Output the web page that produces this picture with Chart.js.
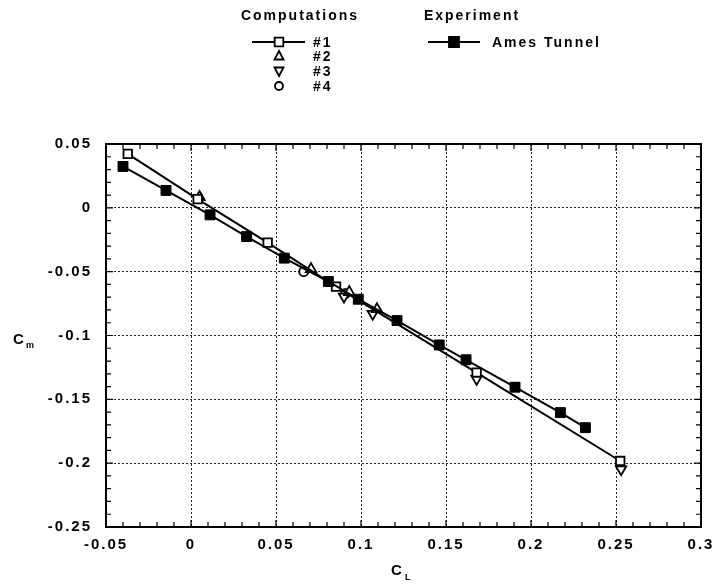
<!DOCTYPE html>
<html>
<head>
<meta charset="utf-8">
<script src="https://cdn.jsdelivr.net/npm/chart.js@4"></script>
<style>
  body { margin: 0; background: #fff; }
  canvas { display: block; }
</style>
</head>
<body>
<canvas id="cm" width="715" height="586"></canvas>
<script>
// C_L / C_m values
let clExp = [-0.040, -0.0147, 0.0112, 0.0327, 0.0549, 0.0808, 0.0984, 0.1212, 0.146, 0.1618, 0.1906, 0.2173, 0.232];
let cmExp = [0.0324, 0.0136, -0.0055, -0.0225, -0.0394, -0.0577, -0.0716, -0.0883, -0.1074, -0.119, -0.1405, -0.1604, -0.1722];

let cl1 = [-0.0372, 0.0039, 0.0451, 0.0853, 0.168, 0.2525];
let cm1 = [0.0423, 0.0068, -0.0272, -0.0617, -0.129, -0.1983];

let cl2 = [0.005, 0.0706, 0.0931, 0.1094];
let cm2 = [0.0085, -0.048, -0.066, -0.0794];

let cl3 = [0.090, 0.1069, 0.168, 0.253];
let cm3 = [-0.0695, -0.083, -0.134, -0.2048];

let cl4 = [0.0663, 0.091];
let cm4 = [-0.050, -0.067];

let xTicks = [-0.05, 0, 0.05, 0.1, 0.15, 0.2, 0.25, 0.3];
let yTicks = [-0.25, -0.2, -0.15, -0.1, -0.05, 0, 0.05];

function pts(xs, ys) {
  return xs.map((x, i) => ({ x: x, y: ys[i] }));
}

let FONT = "Liberation Sans, Arial, sans-serif";

function marker(ctx, style, x, y, filled) {
  ctx.save();
  ctx.beginPath();
  if (style === "rect") {
    let s = filled ? 5 : 4.3;
    ctx.rect(x - s, y - s, 2 * s, 2 * s);
  } else if (style === "up") {
    ctx.moveTo(x, y - 5);
    ctx.lineTo(x + 4.5, y + 3.5);
    ctx.lineTo(x - 4.5, y + 3.5);
    ctx.closePath();
  } else if (style === "down") {
    ctx.moveTo(x, y + 5);
    ctx.lineTo(x + 4.5, y - 3.5);
    ctx.lineTo(x - 4.5, y - 3.5);
    ctx.closePath();
  } else {
    ctx.arc(x, y, 4, 0, Math.PI * 2);
  }
  ctx.fillStyle = filled ? "#000" : "#fff";
  ctx.fill();
  ctx.lineWidth = 1.8;
  ctx.strokeStyle = "#000";
  ctx.stroke();
  ctx.restore();
}

let spacing = {
  id: "spacing",
  beforeLayout(chart) { chart.ctx.letterSpacing = "2px"; },
  beforeDraw(chart) { chart.ctx.letterSpacing = "2px"; },
};

let frame = {
  id: "frame",
  afterDatasetsDraw(chart) {
    let ctx = chart.ctx;
    let a = chart.chartArea;
    let xs = chart.scales.x, ys = chart.scales.y;
    ctx.save();
    ctx.strokeStyle = "#000";
    ctx.lineWidth = 1.2;
    ctx.beginPath();
    // minor ticks every 0.01, pointing inward
    for (let i = 0; i <= 35; i++) {
      let px = xs.getPixelForValue(-0.05 + i * 0.01);
      let len = i % 5 === 0 ? 7 : 5;
      ctx.moveTo(px, a.bottom); ctx.lineTo(px, a.bottom - len);
      ctx.moveTo(px, a.top); ctx.lineTo(px, a.top + len);
    }
    for (let i = 0; i <= 30; i++) {
      let py = ys.getPixelForValue(-0.25 + i * 0.01);
      let len = i % 5 === 0 ? 7 : 5;
      ctx.moveTo(a.left, py); ctx.lineTo(a.left + len, py);
      ctx.moveTo(a.right, py); ctx.lineTo(a.right - len, py);
    }
    ctx.stroke();
    ctx.lineWidth = 2;
    ctx.strokeRect(a.left, a.top, a.right - a.left, a.bottom - a.top);

    // axis titles with subscripts
    ctx.fillStyle = "#000";
    ctx.letterSpacing = "0px";
    ctx.textBaseline = "alphabetic";
    ctx.textAlign = "left";
    ctx.font = "bold 15px " + FONT;
    ctx.fillText("C", 13, 344);
    ctx.fillText("C", 391, 575);
    ctx.font = "bold 9px " + FONT;
    ctx.fillText("m", 26, 348);
    ctx.fillText("L", 405, 580);
    ctx.restore();
  },
};

let legend = {
  id: "legendBox",
  afterDraw(chart) {
    let ctx = chart.ctx;
    let ds = chart.data.datasets;
    ctx.save();
    ctx.fillStyle = "#000";
    ctx.letterSpacing = "2px";
    ctx.font = "bold 14px " + FONT;
    ctx.textBaseline = "middle";
    ctx.textAlign = "center";
    ctx.fillText("Computations", 300, 16);
    ctx.fillText("Experiment", 472, 16);
    ctx.textAlign = "left";
    let rows = [42, 56, 71, 86];
    for (let i = 0; i < 4; i++) {
      let d = ds[i];
      if (d.showLine) {
        ctx.beginPath();
        ctx.lineWidth = 1.8;
        ctx.moveTo(252, rows[i]);
        ctx.lineTo(305, rows[i]);
        ctx.stroke();
      }
      marker(ctx, d.mark, 279, rows[i], false);
      ctx.fillText(d.label, 313, rows[i] + 1);
    }
    let e = ds[4];
    ctx.beginPath();
    ctx.lineWidth = 1.8;
    ctx.moveTo(428, 42);
    ctx.lineTo(480, 42);
    ctx.stroke();
    marker(ctx, e.mark, 454, 42, true);
    ctx.fillText(e.label, 492, 43);
    ctx.restore();
  },
};

let ctx = document.getElementById("cm").getContext("2d");
let chart = new Chart(ctx, {
  type: "scatter",
  data: {
    datasets: [
      {
        label: "#1",
        mark: "rect",
        data: pts(cl1, cm1),
        showLine: true,
        borderColor: "#000",
        backgroundColor: "#fff",
        borderWidth: 2,
        pointStyle: "rect",
        pointRadius: 6,
        pointBorderWidth: 1.8,
        order: 2,
      },
      {
        label: "#2",
        mark: "up",
        data: pts(cl2, cm2),
        showLine: false,
        borderColor: "#000",
        backgroundColor: "#fff",
        pointStyle: "triangle",
        pointRadius: 6,
        pointBorderWidth: 1.8,
        order: 3,
      },
      {
        label: "#3",
        mark: "down",
        data: pts(cl3, cm3),
        showLine: false,
        borderColor: "#000",
        backgroundColor: "#fff",
        pointStyle: "triangle",
        rotation: 180,
        pointRadius: 6,
        pointBorderWidth: 1.8,
        order: 4,
      },
      {
        label: "#4",
        mark: "circle",
        data: pts(cl4, cm4),
        showLine: false,
        borderColor: "#000",
        backgroundColor: "#fff",
        pointStyle: "circle",
        pointRadius: 4.5,
        pointBorderWidth: 1.8,
        order: 5,
      },
      {
        label: "Ames Tunnel",
        mark: "rect",
        data: pts(clExp, cmExp),
        showLine: true,
        borderColor: "#000",
        backgroundColor: "#000",
        borderWidth: 2,
        pointStyle: "rect",
        pointRadius: 7,
        pointBorderWidth: 1,
        order: 1,
      },
    ],
  },
  options: {
    responsive: false,
    animation: false,
    events: [],
    layout: { padding: { top: 144, right: 14, left: 0, bottom: 0 } },
    plugins: {
      legend: { display: false },
      tooltip: { enabled: false },
    },
    scales: {
      x: {
        type: "linear",
        min: -0.05,
        max: 0.3,
        afterBuildTicks: (s) => { s.ticks = xTicks.map((v) => ({ value: v })); },
        afterFit: (s) => { s.height = 59; s.paddingRight = 0; s.paddingLeft = 0; },
        ticks: {
          color: "#000",
          padding: 9,
          maxRotation: 0,
          font: { family: FONT, size: 15, weight: "bold" },
          callback: (v) => String(+v.toFixed(2)),
        },
        grid: {
          color: "#222",
          lineWidth: 1,
          drawTicks: false,
        },
        border: { display: false, dash: [2, 2] },
      },
      y: {
        type: "linear",
        min: -0.25,
        max: 0.05,
        afterBuildTicks: (s) => { s.ticks = yTicks.map((v) => ({ value: v })); },
        afterFit: (s) => { s.width = 106; s.paddingTop = 0; s.paddingBottom = 0; },
        ticks: {
          color: "#000",
          padding: 14,
          font: { family: FONT, size: 15, weight: "bold" },
          callback: (v) => String(+v.toFixed(2)),
        },
        grid: {
          color: "#222",
          lineWidth: 1,
          drawTicks: false,
        },
        border: { display: false, dash: [2, 2] },
      },
    },
  },
  plugins: [spacing, frame, legend],
});
</script>
</body>
</html>
